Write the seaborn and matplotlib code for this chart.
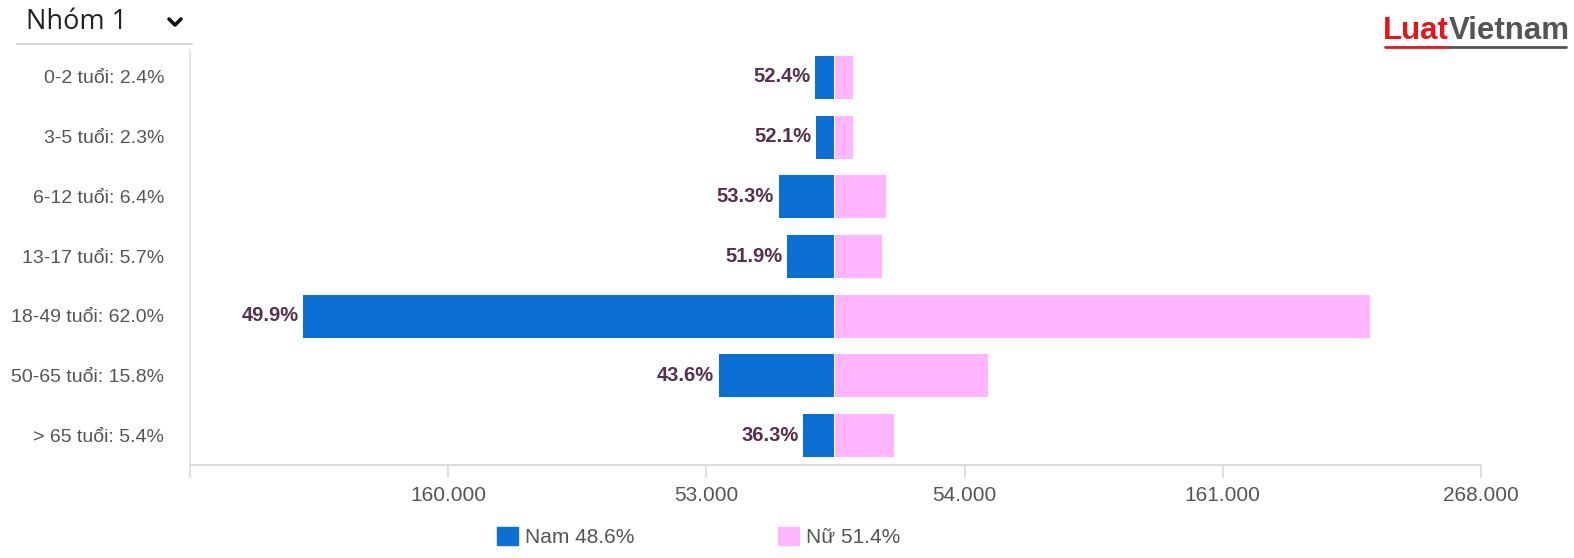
import matplotlib
matplotlib.use("Agg")
import matplotlib.pyplot as plt
import seaborn as sns
import pandas as pd
from matplotlib.lines import Line2D
from matplotlib.patches import Patch

# ---------------- data ----------------
categories = ["0-2 tuổi: 2.4%", "3-5 tuổi: 2.3%", "6-12 tuổi: 6.4%", "13-17 tuổi: 5.7%",
              "18-49 tuổi: 62.0%", "50-65 tuổi: 15.8%", "> 65 tuổi: 5.4%"]
male = [8600, 8200, 23500, 20200, 220500, 48400, 13200]
female = [7900, 7800, 21400, 19700, 222000, 63500, 24700]
bar_labels = ["52.4%", "52.1%", "53.3%", "51.9%", "49.9%", "43.6%", "36.3%"]
tick_values = [-160000, -53000, 54000, 161000, 268000]
x_limits = [-267000, 268000]
legend_labels = ["Nam 48.6%", "Nữ 51.4%"]
group_title = "Nhóm 1"

BLUE = "#0b6fd4"
PINK = "#ffb5ff"
LABEL_C = "#56304f"
TICK_C = "#555555"

sns.set_style("white")
plt.rcParams["font.family"] = ["Liberation Sans", "DejaVu Sans"]

W, H = 1574, 558
fig = plt.figure(figsize=(W / 100, H / 100), dpi=100)
ax = fig.add_axes([190 / W, 1 - 465 / H, (1481 - 190) / W, (465 - 50) / H])

df = pd.DataFrame({"cat": categories, "male": [-v for v in male], "female": female})
sns.barplot(data=df, x="male", y="cat", orient="h", color=BLUE, saturation=1,
            width=0.74, edgecolor="white", linewidth=0.7, ax=ax)
sns.barplot(data=df, x="female", y="cat", orient="h", color=PINK, saturation=1,
            width=0.74, edgecolor="white", linewidth=0.7, ax=ax)

for i, (v, lab) in enumerate(zip(male, bar_labels)):
    ax.annotate(lab, xy=(-v, i), xytext=(-2.5, 0), textcoords="offset points",
                ha="right", va="center", fontsize=14.5, fontweight="bold", color=LABEL_C)

ax.set_xlim(*x_limits)
ax.set_ylim(6 + 30 / 59.67, -27 / 59.67)
ax.set_xlabel("")
ax.set_ylabel("")

all_ticks = [x_limits[0]] + tick_values
ax.set_xticks(all_ticks)
ax.set_xticklabels([""] + [f"{abs(v):,}".replace(",", ".") for v in tick_values])
ax.tick_params(axis="x", bottom=True, length=9, width=1.2, color="#d9d9d9",
               labelsize=15, labelcolor=TICK_C, pad=6)
ax.tick_params(axis="y", left=False, labelsize=14, labelcolor=TICK_C, pad=15)

for s in ["top", "right"]:
    ax.spines[s].set_visible(False)
ax.spines["left"].set_color("#e3e3e3")
ax.spines["left"].set_linewidth(1.3)
ax.spines["bottom"].set_color("#d9d9d9")
ax.spines["bottom"].set_linewidth(1.3)

# legend
handles = [Patch(facecolor=BLUE, edgecolor=BLUE), Patch(facecolor=PINK, edgecolor=PINK)]
fig.legend(handles, legend_labels, loc="center left",
           bbox_to_anchor=(497 / W, 1 - 537 / H), ncol=2, frameon=False,
           fontsize=15, handlelength=1.0, handleheight=1.0, handletextpad=0.35,
           columnspacing=6.9, borderpad=0, borderaxespad=0,
           labelcolor=TICK_C)

# dropdown header
fig.text(26 / W, 1 - 22 / H, group_title, fontsize=19.5, color="#222222",
         ha="left", va="center", family=["Open Sans", "DejaVu Sans"])
fig.add_artist(Line2D([169 / W, 175 / W, 181 / W], [1 - 19 / H, 1 - 25 / H, 1 - 19 / H],
                      color="#111111", lw=2.6, solid_capstyle="round", solid_joinstyle="round"))
fig.add_artist(Line2D([17 / W, 192 / W], [1 - 44 / H, 1 - 44 / H], color="#d0d0d0", lw=1.3))

# logo
logo_fam = ["Liberation Sans", "DejaVu Sans"]
fig.text(1449 / W, 1 - 31 / H, "Luat", fontsize=22.5, fontweight="bold", color="#e8141b",
         ha="right", va="center", family=logo_fam)
fig.text(1449 / W, 1 - 31 / H, "Vietnam", fontsize=22.5, fontweight="bold", color="#555558",
         ha="left", va="center", family=logo_fam)
fig.add_artist(Line2D([1385 / W, 1449 / W], [1 - 47 / H, 1 - 47 / H], color="#e8141b", lw=2))
fig.add_artist(Line2D([1449 / W, 1566 / W], [1 - 47 / H, 1 - 47 / H], color="#555558", lw=2))

fig.savefig("out.png", dpi=100)
